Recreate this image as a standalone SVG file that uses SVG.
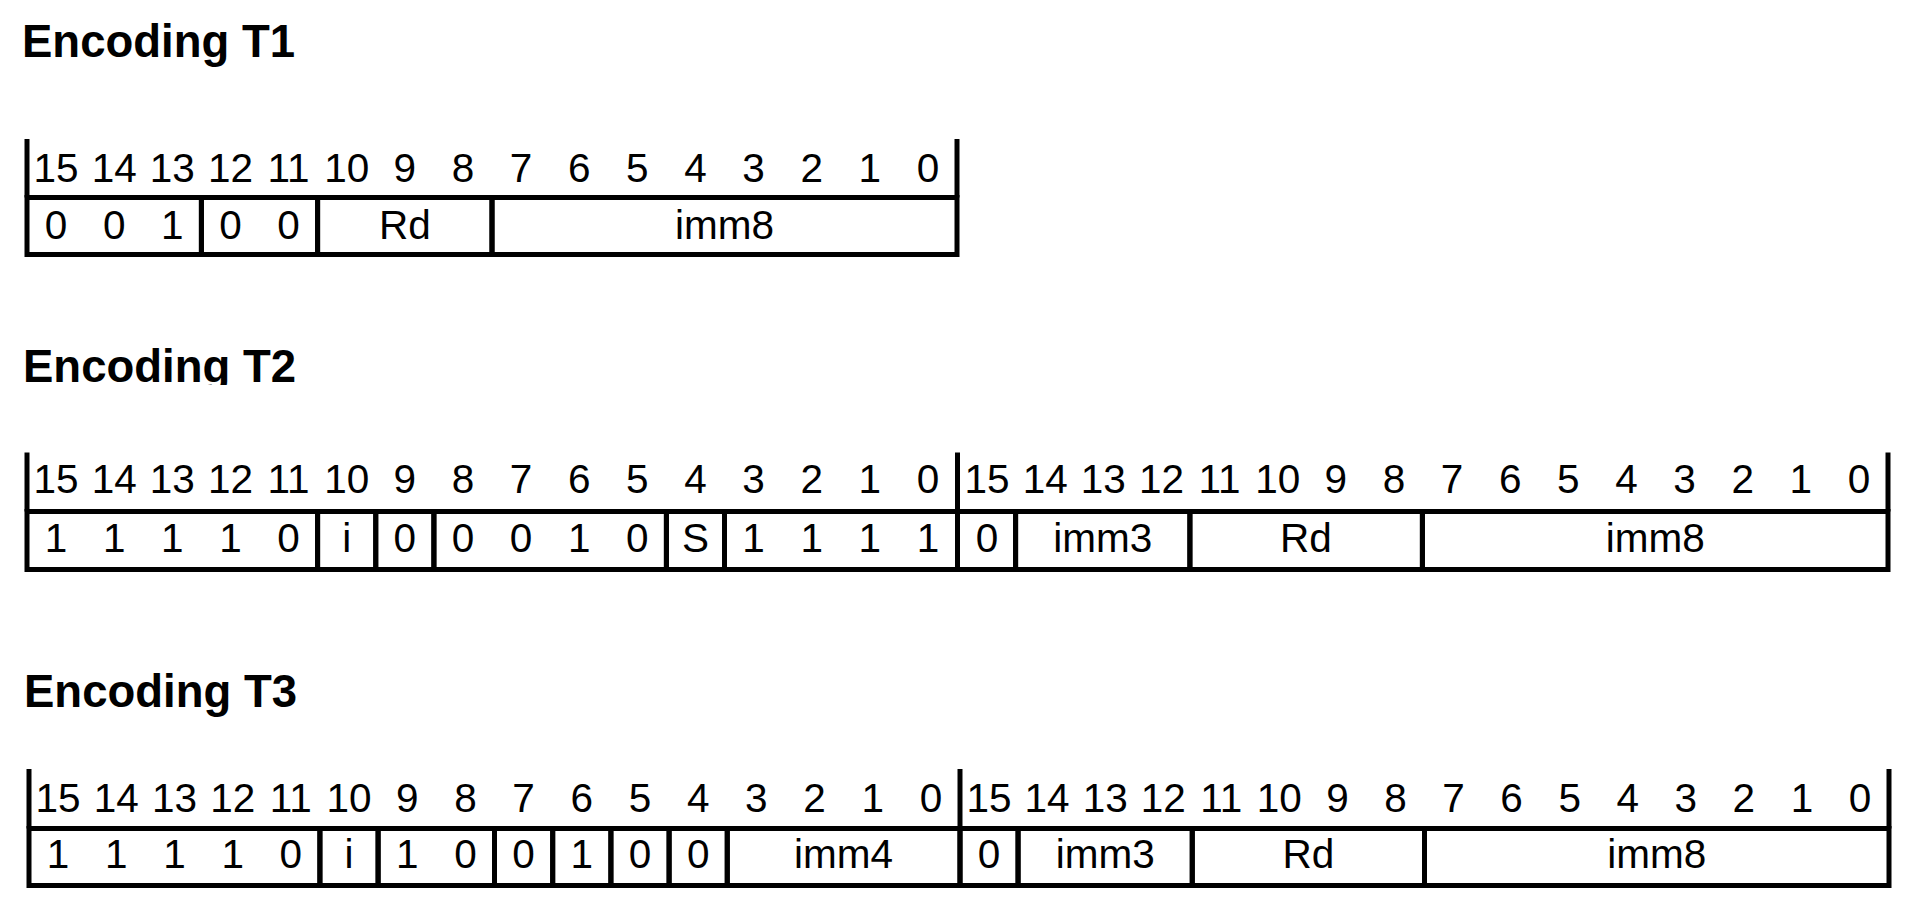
<svg xmlns="http://www.w3.org/2000/svg" width="1922" height="909" viewBox="0 0 1922 909">
<style>
.ttl{font-family:"Liberation Sans",Arial,sans-serif;font-weight:bold;font-size:45.5px;fill:#000}
.num{font-family:"Liberation Sans",Arial,sans-serif;font-size:40.5px;fill:#000;text-anchor:middle}
.cell{fill:none;stroke:#000;stroke-width:5}
.ln{stroke:#000;stroke-width:5;fill:none}
</style>
<defs>
<clipPath id="clipT2"><rect x="0" y="330" width="400" height="55"/></clipPath>
</defs>
<rect width="1922" height="909" fill="#fff"/>

<!-- Encoding T1 -->
<g id="enc-t1">
<text class="ttl" x="22" y="57">Encoding T1</text>
<g id="t1-bits">
<text class="num" y="182"><tspan x="56.06">15</tspan><tspan x="114.19">14</tspan><tspan x="172.31">13</tspan><tspan x="230.44">12</tspan><tspan x="288.56">11</tspan><tspan x="346.69">10</tspan><tspan x="404.81">9</tspan><tspan x="462.94">8</tspan><tspan x="521.06">7</tspan><tspan x="579.19">6</tspan><tspan x="637.31">5</tspan><tspan x="695.44">4</tspan><tspan x="753.56">3</tspan><tspan x="811.69">2</tspan><tspan x="869.81">1</tspan><tspan x="927.94">0</tspan></text>
</g>
<g id="t1-frame">
<line class="ln" x1="27" y1="139" x2="27" y2="197.5"/>
<line class="ln" x1="957" y1="139" x2="957" y2="197.5"/>
</g>
<g id="t1-f1"><rect class="cell" x="27" y="197.5" width="174.4" height="57"/><text class="num" y="239"><tspan x="56.06">0</tspan><tspan x="114.19">0</tspan><tspan x="172.31">1</tspan></text></g>
<g id="t1-f2"><rect class="cell" x="201.4" y="197.5" width="116.2" height="57"/><text class="num" y="239"><tspan x="230.44">0</tspan><tspan x="288.56">0</tspan></text></g>
<g id="t1-rd"><rect class="cell" x="317.6" y="197.5" width="174.4" height="57"/><text class="num" x="404.8" y="239">Rd</text></g>
<g id="t1-imm8"><rect class="cell" x="492" y="197.5" width="465" height="57"/><text class="num" x="724.5" y="239">imm8</text></g>
</g>

<!-- Encoding T2 -->
<g id="enc-t2">
<text class="ttl" x="23" y="381.5" clip-path="url(#clipT2)">Encoding T2</text>
<g id="t2-bits">
<text class="num" y="493"><tspan x="56.06">15</tspan><tspan x="114.19">14</tspan><tspan x="172.31">13</tspan><tspan x="230.44">12</tspan><tspan x="288.56">11</tspan><tspan x="346.69">10</tspan><tspan x="404.81">9</tspan><tspan x="462.94">8</tspan><tspan x="521.06">7</tspan><tspan x="579.19">6</tspan><tspan x="637.31">5</tspan><tspan x="695.44">4</tspan><tspan x="753.56">3</tspan><tspan x="811.69">2</tspan><tspan x="869.81">1</tspan><tspan x="927.94">0</tspan><tspan x="987.06">15</tspan><tspan x="1045.19">14</tspan><tspan x="1103.31">13</tspan><tspan x="1161.44">12</tspan><tspan x="1219.56">11</tspan><tspan x="1277.69">10</tspan><tspan x="1335.81">9</tspan><tspan x="1393.94">8</tspan><tspan x="1452.06">7</tspan><tspan x="1510.19">6</tspan><tspan x="1568.31">5</tspan><tspan x="1626.44">4</tspan><tspan x="1684.56">3</tspan><tspan x="1742.69">2</tspan><tspan x="1800.81">1</tspan><tspan x="1858.94">0</tspan></text>
</g>
<g id="t2-frame">
<line class="ln" x1="27" y1="452.5" x2="27" y2="511.5"/>
<line class="ln" x1="957.5" y1="452.5" x2="957.5" y2="511.5"/>
<line class="ln" x1="1888" y1="452.5" x2="1888" y2="511.5"/>
</g>
<g id="t2-f1"><rect class="cell" x="27" y="511.5" width="290.6" height="58"/><text class="num" y="551.5"><tspan x="56.06">1</tspan><tspan x="114.19">1</tspan><tspan x="172.31">1</tspan><tspan x="230.44">1</tspan><tspan x="288.56">0</tspan></text></g>
<g id="t2-i"><rect class="cell" x="317.6" y="511.5" width="58.15" height="58"/><text class="num" x="346.69" y="551.5">i</text></g>
<g id="t2-f3"><rect class="cell" x="375.75" y="511.5" width="58.15" height="58"/><text class="num" x="404.81" y="551.5">0</text></g>
<g id="t2-f4"><rect class="cell" x="433.9" y="511.5" width="232.5" height="58"/><text class="num" y="551.5"><tspan x="462.94">0</tspan><tspan x="521.06">0</tspan><tspan x="579.19">1</tspan><tspan x="637.31">0</tspan></text></g>
<g id="t2-s"><rect class="cell" x="666.4" y="511.5" width="58.1" height="58"/><text class="num" x="695.44" y="551.5">S</text></g>
<g id="t2-f6"><rect class="cell" x="724.5" y="511.5" width="233" height="58"/><text class="num" y="551.5"><tspan x="753.56">1</tspan><tspan x="811.69">1</tspan><tspan x="869.81">1</tspan><tspan x="927.94">1</tspan></text></g>
<g id="t2-f7"><rect class="cell" x="957.5" y="511.5" width="58.1" height="58"/><text class="num" x="987.06" y="551.5">0</text></g>
<g id="t2-imm3"><rect class="cell" x="1015.6" y="511.5" width="174.3" height="58"/><text class="num" x="1102.8" y="551.5">imm3</text></g>
<g id="t2-rd"><rect class="cell" x="1189.9" y="511.5" width="232.5" height="58"/><text class="num" x="1306" y="551.5">Rd</text></g>
<g id="t2-imm8"><rect class="cell" x="1422.4" y="511.5" width="465.6" height="58"/><text class="num" x="1655.2" y="551.5">imm8</text></g>
</g>

<!-- Encoding T3 -->
<g id="enc-t3">
<text class="ttl" x="24" y="706.5">Encoding T3</text>
<g id="t3-bits">
<text class="num" y="811.5"><tspan x="58.09">15</tspan><tspan x="116.28">14</tspan><tspan x="174.47">13</tspan><tspan x="232.66">12</tspan><tspan x="290.84">11</tspan><tspan x="349.03">10</tspan><tspan x="407.22">9</tspan><tspan x="465.41">8</tspan><tspan x="523.59">7</tspan><tspan x="581.78">6</tspan><tspan x="639.97">5</tspan><tspan x="698.16">4</tspan><tspan x="756.34">3</tspan><tspan x="814.53">2</tspan><tspan x="872.72">1</tspan><tspan x="930.91">0</tspan><tspan x="989.03">15</tspan><tspan x="1047.09">14</tspan><tspan x="1105.16">13</tspan><tspan x="1163.22">12</tspan><tspan x="1221.28">11</tspan><tspan x="1279.34">10</tspan><tspan x="1337.41">9</tspan><tspan x="1395.47">8</tspan><tspan x="1453.53">7</tspan><tspan x="1511.59">6</tspan><tspan x="1569.66">5</tspan><tspan x="1627.72">4</tspan><tspan x="1685.78">3</tspan><tspan x="1743.84">2</tspan><tspan x="1801.91">1</tspan><tspan x="1859.97">0</tspan></text>
</g>
<g id="t3-frame">
<line class="ln" x1="29" y1="769" x2="29" y2="828.5"/>
<line class="ln" x1="960" y1="769" x2="960" y2="828.5"/>
<line class="ln" x1="1889" y1="769" x2="1889" y2="828.5"/>
</g>
<g id="t3-f1"><rect class="cell" x="29" y="828.5" width="290.9" height="57"/><text class="num" y="868"><tspan x="58.09">1</tspan><tspan x="116.28">1</tspan><tspan x="174.47">1</tspan><tspan x="232.66">1</tspan><tspan x="290.84">0</tspan></text></g>
<g id="t3-i"><rect class="cell" x="319.9" y="828.5" width="58.2" height="57"/><text class="num" x="349.03" y="868">i</text></g>
<g id="t3-f3"><rect class="cell" x="378.1" y="828.5" width="116.4" height="57"/><text class="num" y="868"><tspan x="407.22">1</tspan><tspan x="465.41">0</tspan></text></g>
<g id="t3-f4"><rect class="cell" x="494.5" y="828.5" width="58.2" height="57"/><text class="num" x="523.59" y="868">0</text></g>
<g id="t3-f5"><rect class="cell" x="552.7" y="828.5" width="58.2" height="57"/><text class="num" x="581.78" y="868">1</text></g>
<g id="t3-f6"><rect class="cell" x="610.9" y="828.5" width="58.2" height="57"/><text class="num" x="639.97" y="868">0</text></g>
<g id="t3-f7"><rect class="cell" x="669.1" y="828.5" width="58.15" height="57"/><text class="num" x="698.16" y="868">0</text></g>
<g id="t3-imm4"><rect class="cell" x="727.25" y="828.5" width="232.75" height="57"/><text class="num" x="843.6" y="868">imm4</text></g>
<g id="t3-f9"><rect class="cell" x="960" y="828.5" width="58.06" height="57"/><text class="num" x="989.03" y="868">0</text></g>
<g id="t3-imm3"><rect class="cell" x="1018.06" y="828.5" width="174.19" height="57"/><text class="num" x="1105.2" y="868">imm3</text></g>
<g id="t3-rd"><rect class="cell" x="1192.25" y="828.5" width="232.25" height="57"/><text class="num" x="1308.4" y="868">Rd</text></g>
<g id="t3-imm8"><rect class="cell" x="1424.5" y="828.5" width="464.5" height="57"/><text class="num" x="1656.75" y="868">imm8</text></g>
</g>
</svg>
